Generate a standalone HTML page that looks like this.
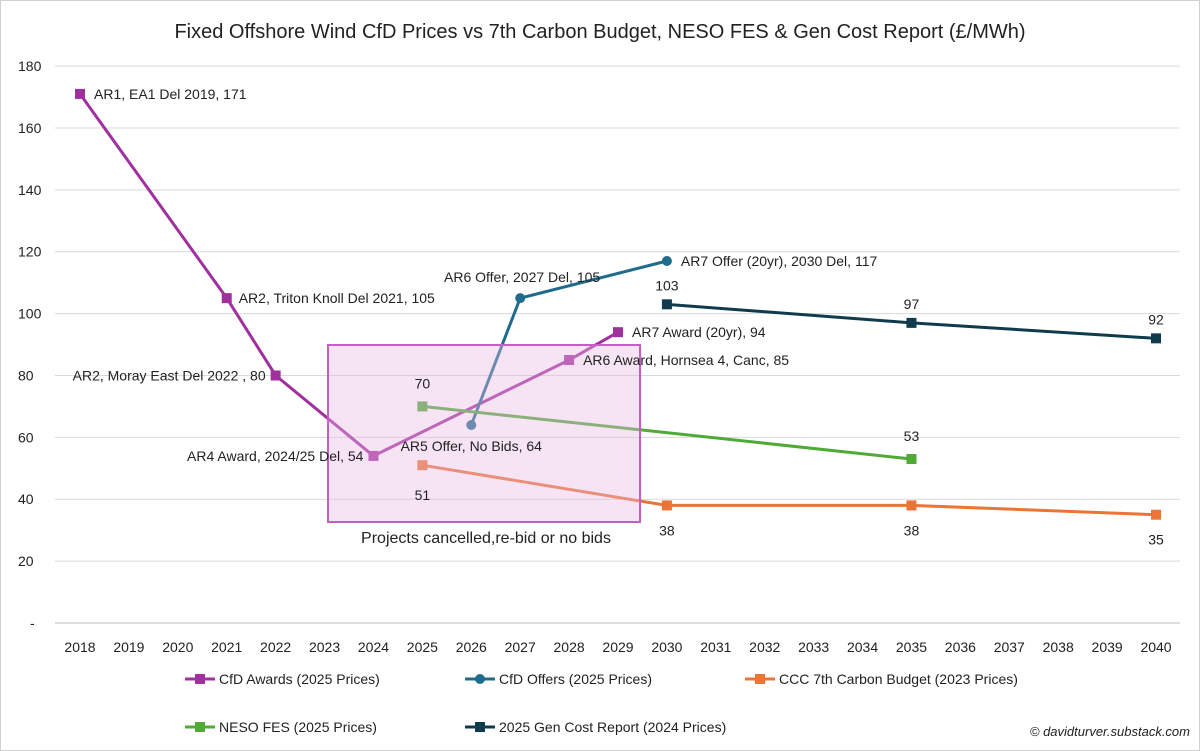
<!DOCTYPE html>
<html><head><meta charset="utf-8"><style>
body{margin:0;background:#fff}
svg{display:block;font-family:"Liberation Sans",sans-serif}
</style></head><body>
<svg id="c" width="1200" height="751" viewBox="0 0 1200 751">
<rect x="0.5" y="0.5" width="1199" height="750" fill="#fff" stroke="#d0d0d0"/>
<text x="600" y="38" text-anchor="middle" font-size="20" fill="#222">Fixed Offshore Wind CfD Prices vs 7th Carbon Budget, NESO FES &amp; Gen Cost Report (£/MWh)</text>
<g id="grid"></g>
<g id="series"></g>
<rect x="328" y="345" width="312" height="177" fill="#e9b8e4" fill-opacity="0.4" stroke="#c55fc6" stroke-width="2"/>
<text x="486" y="543" text-anchor="middle" font-size="16" fill="#222">Projects cancelled,re-bid or no bids</text>
<g id="labels"></g>
<g id="legend"></g>
<text x="1190" y="736" text-anchor="end" font-size="13" font-style="italic" fill="#222">© davidturver.substack.com</text>
</svg>
<script>
const years=[2018,2019,2020,2021,2022,2023,2024,2025,2026,2027,2028,2029,2030,2031,2032,2033,2034,2035,2036,2037,2038,2039,2040];
const yTicks=[0,20,40,60,80,100,120,140,160,180];
const awardX=[2018,2021,2022,2024,2028,2029];
const awardY=[171,105,80,54,85,94];
const awardLbl=["AR1, EA1 Del 2019,  171","AR2, Triton Knoll Del 2021,  105","AR2, Moray East Del 2022 ,  80","AR4 Award, 2024/25 Del,  54","AR6 Award, Hornsea 4, Canc,  85","AR7 Award (20yr),  94"];
const offerX=[2026,2027,2030];
const offerY=[64,105,117];
const offerLbl=["AR5 Offer, No Bids,  64","AR6 Offer, 2027 Del,  105","AR7 Offer (20yr), 2030 Del,  117"];
const cccX=[2025,2030,2035,2040];
const cccY=[51,38,38,35];
const nesoX=[2025,2035];
const nesoY=[70,53];
const genX=[2030,2035,2040];
const genY=[103,97,92];
const sx=y=>80+(y-2018)*48.91;
const sy=v=>623-v*3.094;
const NS="http://www.w3.org/2000/svg";
function mk(t,a,p){const e=document.createElementNS(NS,t);for(const k in a)e.setAttribute(k,a[k]);p.appendChild(e);return e;}
const g=document.getElementById('grid'),s=document.getElementById('series'),LB=document.getElementById('labels'),L=document.getElementById('legend');
yTicks.forEach(v=>{
 const l=mk('line',{x1:55,x2:1180,y1:sy(v),y2:sy(v),stroke:v===0?'#bbb':'#d9d9d9','stroke-width':1},g);
 
 
 const t=mk('text',{x:v===0?30:18,y:sy(v)+5,'font-size':14,fill:'#222'},g);t.textContent=v===0?'-':v;
 
 
});
years.forEach(y=>{const t=mk('text',{x:sx(y),y:652,'text-anchor':'middle','font-size':14,fill:'#222'},g);t.textContent=y;
 
 });
function series(name,xs,ys,col,shape){
 const grp=mk('g',{},s);
 
 
 mk('polyline',{points:xs.map((x,i)=>sx(x)+','+sy(ys[i])).join(' '),fill:'none',stroke:col,'stroke-width':3},grp);
 xs.forEach((x,i)=>{let m;
  if(shape==='c')m=mk('circle',{cx:sx(x),cy:sy(ys[i]),r:5,fill:col},grp);
  else m=mk('rect',{x:sx(x)-5,y:sy(ys[i])-5,width:10,height:10,fill:col},grp);
  
  });
}
function lbl(x,y,txt,anchor){const t=mk('text',{x:x,y:y,'font-size':14,fill:'#222','text-anchor':anchor||'start'},LB);t.textContent=txt;
 
 }
series('cfd-awards',awardX,awardY,'#a0309e','s');
series('cfd-offers',offerX,offerY,'#1f6b8c','c');
series('ccc-7th-carbon-budget',cccX,cccY,'#ec7434','s');
series('neso-fes',nesoX,nesoY,'#4faa36','s');
series('gen-cost-report',genX,genY,'#0f3b4c','s');
lbl(sx(awardX[0])+14,sy(awardY[0])+5,awardLbl[0]);
lbl(sx(awardX[1])+12,sy(awardY[1])+5,awardLbl[1]);
lbl(sx(awardX[2])-10,sy(awardY[2])+5,awardLbl[2],'end');
lbl(sx(awardX[3])-10,sy(awardY[3])+5,awardLbl[3],'end');
lbl(sx(awardX[4])+14,sy(awardY[4])+5,awardLbl[4]);
lbl(sx(awardX[5])+14,sy(awardY[5])+5,awardLbl[5]);
lbl(sx(offerX[0]),sy(offerY[0])+26,offerLbl[0],'middle');
lbl(sx(offerX[1])+80,sy(offerY[1])-16,offerLbl[1],'end');
lbl(sx(offerX[2])+14,sy(offerY[2])+5,offerLbl[2]);
cccX.forEach((x,i)=>lbl(sx(x),i===0?sy(cccY[i])+35:sy(cccY[i])+30,cccY[i],'middle'));
nesoX.forEach((x,i)=>lbl(sx(x),sy(nesoY[i])-18,nesoY[i],'middle'));
genX.forEach((x,i)=>lbl(sx(x),sy(genY[i])-14,genY[i],'middle'));
const leg=[['CfD Awards (2025 Prices)','#a0309e','s',185,679],['CfD Offers (2025 Prices)','#1f6b8c','c',465,679],['CCC 7th Carbon Budget (2023 Prices)','#ec7434','s',745,679],['NESO FES (2025 Prices)','#4faa36','s',185,727],['2025 Gen Cost Report (2024 Prices)','#0f3b4c','s',465,727]];
leg.forEach(d=>{const gg=mk('g',{},L);
 
 
 mk('line',{x1:d[3],x2:d[3]+30,y1:d[4],y2:d[4],stroke:d[1],'stroke-width':3},gg);
 if(d[2]==='c')mk('circle',{cx:d[3]+15,cy:d[4],r:5,fill:d[1]},gg);else mk('rect',{x:d[3]+10,y:d[4]-5,width:10,height:10,fill:d[1]},gg);
 const t=mk('text',{x:d[3]+34,y:d[4]+5,'font-size':14,fill:'#222'},gg);t.textContent=d[0];});
</script>
</body></html>
